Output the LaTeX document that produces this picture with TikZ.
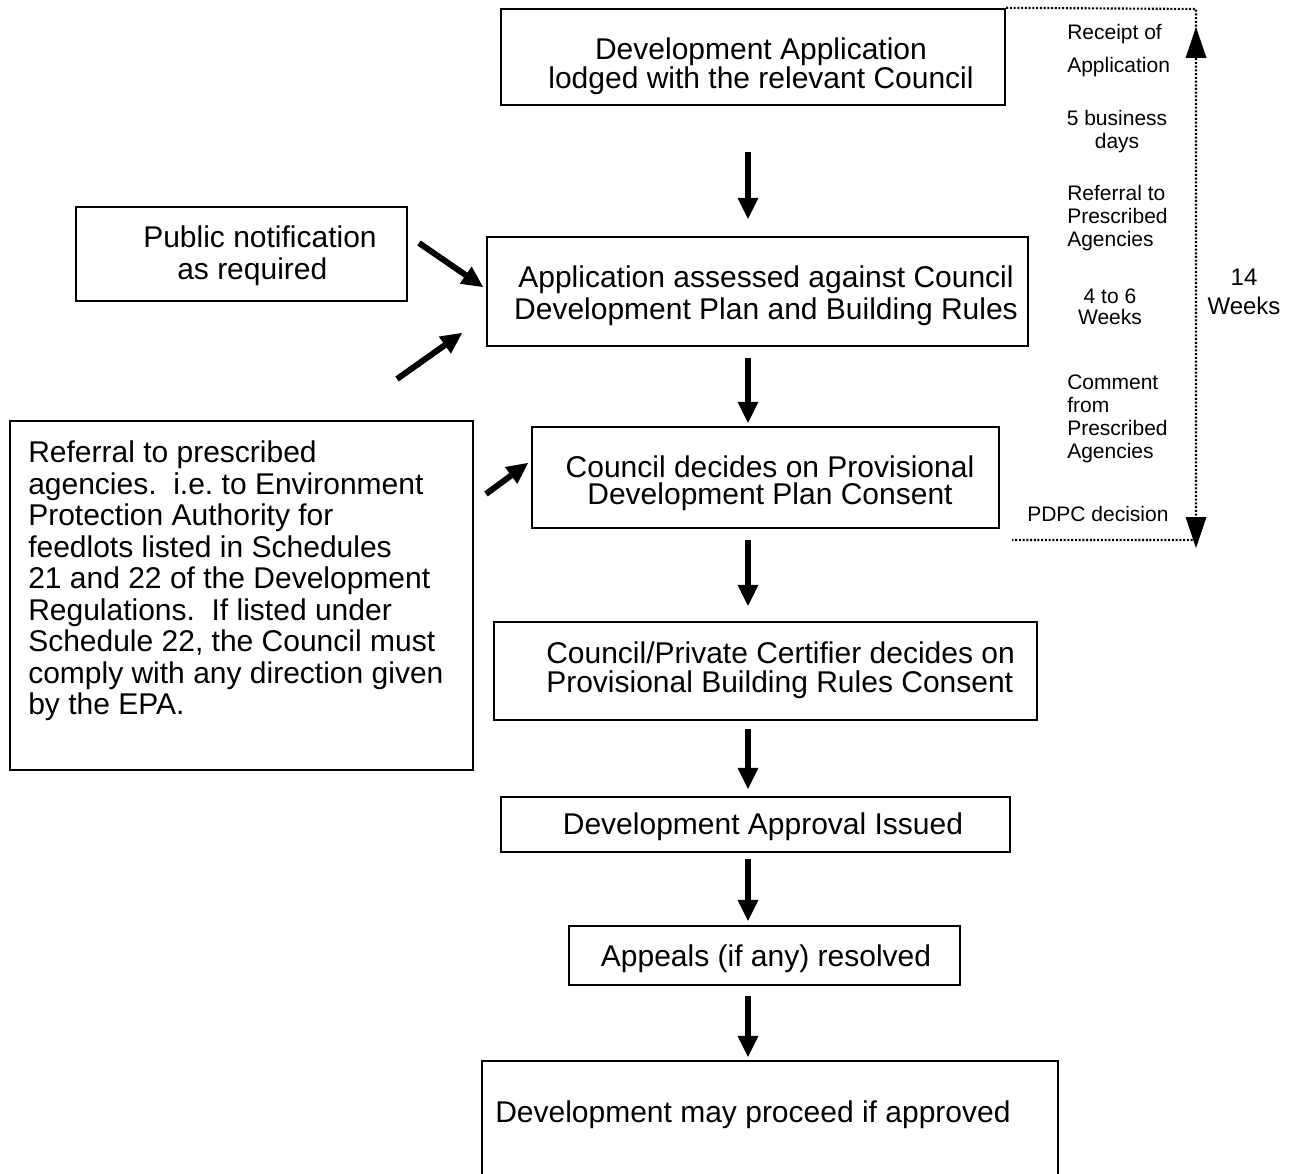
\documentclass[tikz,border=0pt]{standalone}
\usepackage{fontspec}
\setmainfont{Liberation Sans}
\usetikzlibrary{arrows.meta}
\begin{document}
\begin{tikzpicture}[x=0.75pt,y=-0.75pt,
  box/.style={draw, line width=1.8pt, inner sep=0pt},
  maintxt/.style={inner sep=0pt, font=\fontsize{22.5pt}{#1}\selectfont},
  maintxt/.default=20.25pt,
  side/.style={inner sep=0pt, anchor=west, align=left, font=\fontsize{15.75pt}{17.25pt}\selectfont},
  bigarrow/.style={line width=4.5pt, -{Triangle[length=15.75pt,width=15.75pt,line width=0pt]}},
  dotline/.style={line width=1.6pt, dash pattern=on 1.5pt off 1.3pt},
  dimhead/.style={line width=0.5pt, -{Triangle[length=23.25pt,width=15.75pt,line width=0pt]}}]

\useasboundingbox (0,0) rectangle (1301,1173);
\clip (0,0) rectangle (1301,1173);

% boxes
\node[box, minimum width=378pt, minimum height=72pt] (b1) at (753,57) {};
\node[box, minimum width=405.75pt, minimum height=81.75pt] (b2) at (757.5,291.5) {};
\node[box, minimum width=350.25pt, minimum height=75.75pt] (b3) at (765.5,477.5) {};
\node[box, minimum width=407.25pt, minimum height=73.5pt] (b4) at (765.5,671) {};
\node[box, minimum width=381.75pt, minimum height=41.25pt] (b5) at (755.5,824.5) {};
\node[box, minimum width=293.25pt, minimum height=44.25pt] (b6) at (764.5,955.5) {};
\node[box, minimum width=432pt, minimum height=104.25pt] (b7) at (770,1130.5) {};
\node[box, minimum width=248.25pt, minimum height=70.5pt] (pn) at (241.5,254) {};
\node[box, minimum width=347.25pt, minimum height=261.75pt] (ref) at (241.5,595.5) {};

% texts
\node[maintxt, align=center] (t1) at (761,66) {Development Application\\lodged with the relevant Council};
\node[maintxt=24pt, align=center] (t2) at (766,296) {Application assessed against Council\\Development Plan and Building Rules};
\node[maintxt, align=center] (t3) at (770,483) {Council decides on Provisional\\Development Plan Consent};
\node[maintxt=21.75pt, align=left, anchor=west] (t4) at (546,670) {Council/Private Certifier decides on\\Provisional Building Rules Consent};
\node[maintxt] (t5) at (763,827) {Development Approval Issued};
\node[maintxt] (t6) at (766,959) {Appeals (if any) resolved};
\node[maintxt, anchor=west] (t7) at (495,1115) {Development may proceed if approved};
\node[maintxt=24pt, align=left, anchor=west] (tpn) at (143,256) {Public notification\\\hspace*{25.5pt}as required};
\node[maintxt=23.6pt, align=left, anchor=west] (tref) at (28,581) {Referral to prescribed\\agencies.\ \ i.e.\ to Environment\\Protection Authority for\\feedlots listed in Schedules\\21 and 22 of the Development\\Regulations.\ \ If listed under\\Schedule 22, the Council must\\comply with any direction given\\by the EPA.};

% right column
\node[side] (r1) at (1067,34) {Receipt of};
\node[side] (r2) at (1067,67) {Application};
\node[side, anchor=center, align=center] (r3) at (1117,132) {5 business\\days};
\node[side] (r4) at (1067,218) {Referral to\\Prescribed\\Agencies};
\node[side, anchor=center, align=center, font=\fontsize{15.75pt}{16pt}\selectfont] (r5) at (1110,307) {4 to 6\\Weeks};
\node[side] (r6) at (1067,419) {Comment\\from\\Prescribed\\Agencies};
\node[side] (r7) at (1027,514) {PDPC decision};
\node[inner sep=0pt, align=center, font=\fontsize{18pt}{22pt}\selectfont] (r8) at (1244,292) {14\\Weeks};

% vertical arrows
\coordinate (ax) at (748,0);
\draw[bigarrow, shorten <=34.5pt, shorten >=12.75pt] (b1.south -| ax) -- (b2.north -| ax);
\draw[bigarrow, shorten <=8.25pt, shorten >=2.25pt] (b2.south -| ax) -- (b3.north -| ax);
\draw[bigarrow, shorten <=8.25pt, shorten >=11.25pt] (b3.south -| ax) -- (b4.north -| ax);
\draw[bigarrow, shorten <=6pt, shorten >=5.25pt] (b4.south -| ax) -- (b5.north -| ax);
\draw[bigarrow, shorten <=4.5pt, shorten >=3pt] (b5.south -| ax) -- (b6.north -| ax);
\draw[bigarrow, shorten <=7.5pt, shorten >=2.25pt] (b6.south -| ax) -- (b7.north -| ax);

% diagonal arrows
\coordinate (d1s) at (419,243); \coordinate (d1e) at (483,287);
\coordinate (d2s) at (397,379); \coordinate (d2e) at (462,333);
\coordinate (d3s) at (486,494); \coordinate (d3e) at (528,463);
\draw[bigarrow] (d1s) -- (d1e);
\draw[bigarrow] (d2s) -- (d2e);
\draw[bigarrow] (d3s) -- (d3e);

% time bracket
\coordinate (dtr) at (1196,9);
\coordinate (dbr) at (1196,540);
\coordinate (dbl) at (1012,540);
\draw[dotline] (b1.north east) -- (dtr) -- (dbr) -- (dbl);
\coordinate (up1) at (1196,58); \coordinate (up2) at (1196,27);
\coordinate (dn1) at (1196,517); \coordinate (dn2) at (1196,548);
\draw[dimhead] (up1) -- (up2);
\draw[dimhead] (dn1) -- (dn2);

\end{tikzpicture}
\end{document}
